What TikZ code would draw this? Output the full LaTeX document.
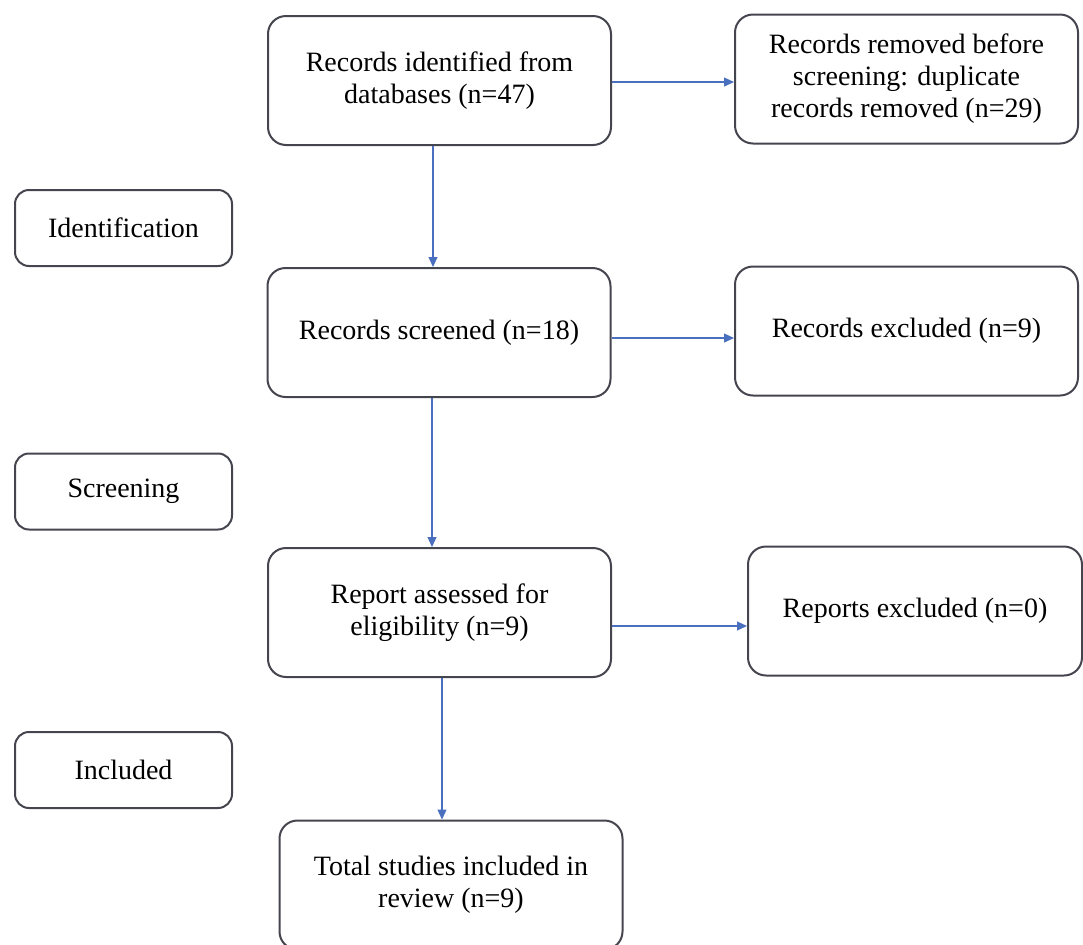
\documentclass[tikz,border=0pt]{standalone}
\usepackage{fontspec}
\setmainfont{Liberation Serif}
\usetikzlibrary{positioning, arrows.meta}
\definecolor{flowblue}{HTML}{4A6FBF}
\definecolor{boxgrey}{HTML}{45454F}

\begin{document}
\begin{tikzpicture}[
      x=0.5pt, y=-0.5pt,
      every node/.style={font=\fontsize{14}{16}\selectfont},
      box/.style={draw=boxgrey, line width=1pt, rounded corners=9pt, minimum width=171.5pt, minimum height=64.5pt, align=center, inner sep=0pt},
      stage/.style={box, minimum width=108.5pt, minimum height=38pt, rounded corners=7pt},
      arr/.style={-{Triangle[length=5pt, width=4.5pt]}, color=flowblue, line width=0.6pt},
    ]
    \useasboundingbox (0,0) rectangle (1083,944);

    % main column
    \node[box] (ident) at (439.5,80.5) {Records identified from\\databases (n=47)};
    \node[box] (screen) at (439,332.5) {Records screened (n=18)};
    \node[box] (assess) at (439.5,612.5) {Report assessed for\\eligibility (n=9)};
    \node[box] (total) at (451,885) {Total studies included in\\review (n=9)};

    % exclusions
    \node[box] (removed) at (906.5,79) {Records removed before\\screening: duplicate\\records removed (n=29)};
    \node[box] (recex) at (906.5,331) {Records excluded (n=9)};
    \node[box, minimum width=167pt] (repex) at (915,611) {Reports excluded (n=0)};

    % stages
    \node[stage] (sid) at (123.5,228) {Identification};
    \node[stage] (sscr) at (123.5,491.5) {Screening};
    \node[stage] (sinc) at (123.5,770) {Included};

    % flow
    \draw[arr] ([xshift=-3.25pt]ident.south) -- ([xshift=-3.25pt]ident.south |- screen.north);
    \draw[arr] ([xshift=-3.5pt]screen.south) -- ([xshift=-3.5pt]screen.south |- assess.north);
    \draw[arr] ([xshift=1.25pt]assess.south) -- ([xshift=1.25pt]assess.south |- total.north);

    \draw[arr] ([yshift=-0.75pt]ident.east) -- ([yshift=-0.75pt]ident.east -| removed.west);
    \draw[arr] ([yshift=-2.75pt]screen.east) -- ([yshift=-2.75pt]screen.east -| recex.west);
    \draw[arr] ([yshift=-6.75pt]assess.east) -- ([yshift=-6.75pt]assess.east -| repex.west);
  \end{tikzpicture}
\end{document}
